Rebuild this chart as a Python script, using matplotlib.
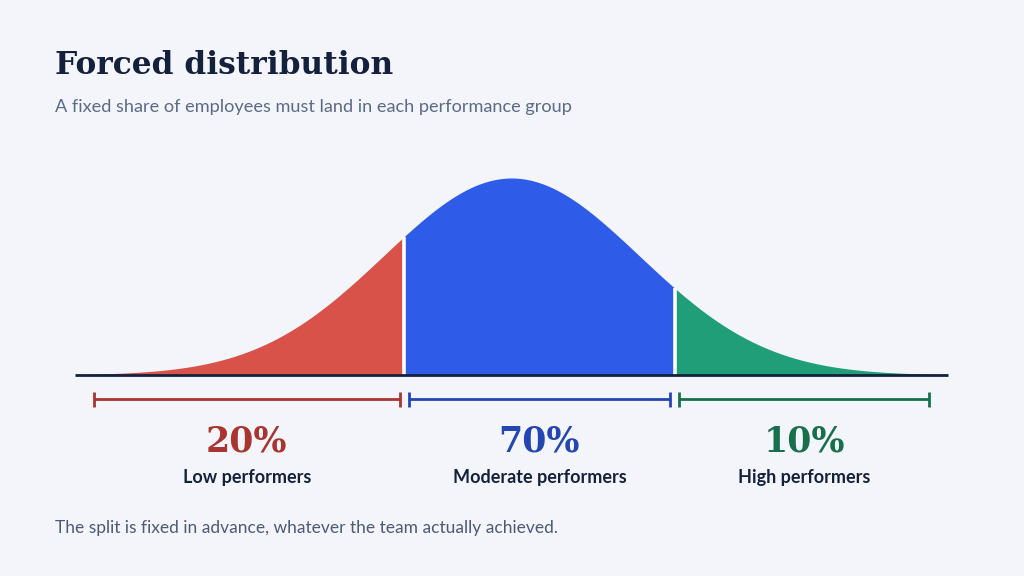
import numpy as np
import matplotlib
matplotlib.use("Agg")
import matplotlib.pyplot as plt
from statistics import NormalDist

# shares of each group (percent), left to right
shares = [20, 70, 10]
share_labels = ["20%", "70%", "10%"]
group_names = ["Low performers", "Moderate performers", "High performers"]

fill_colors = ["#d9524a", "#2e5ce9", "#1f9e78"]
dark_colors = ["#a8352f", "#2446b3", "#17704b"]

bg = "#f4f5fa"
navy = "#14213d"

z_lo, z_hi = -3.27, 3.27
nd = NormalDist()
cum = np.cumsum(shares) / 100.0
cuts = [z_lo] + [nd.inv_cdf(c) for c in cum[:-1]] + [z_hi]

fig = plt.figure(figsize=(10.24, 5.76), dpi=100, facecolor=bg)
# axes spans whole figure; limits chosen so the curve sits where it does in the layout
ax = fig.add_axes([0, 0, 1, 1])
ax.set_facecolor(bg)
sig_px, mu_px, base_px, peak_px = 127.6, 511.4, 375, 178
sc = (base_px - peak_px) / nd.pdf(0)
ax.set_xlim(-mu_px / sig_px, (1024 - mu_px) / sig_px)
ax.set_ylim(-(576 - base_px) / sc, base_px / sc)
ax.axis("off")

for i in range(3):
    xs = np.linspace(cuts[i], cuts[i + 1], 300)
    ys = np.array([nd.pdf(v) for v in xs])
    ax.fill_between(xs, 0, ys, color=fill_colors[i], lw=0, zorder=2)

# white dividers
for c in cuts[1:-1]:
    ax.plot([c, c], [0, nd.pdf(c)], color="white", lw=2.6, zorder=3,
            solid_capstyle="butt")

# baseline
ax.plot([(75 - mu_px) / sig_px, (948 - mu_px) / sig_px], [0, 0], color=navy,
        lw=2, zorder=4, solid_capstyle="butt")

# brackets
gap = 4.5 / sig_px
by = -24 / sc
th = 7.5 / sc
for i in range(3):
    a = cuts[i] + (gap if i > 0 else 0)
    b = cuts[i + 1] - (gap if i < 2 else 0)
    ax.plot([a, b], [by, by], color=dark_colors[i], lw=2, solid_capstyle="butt")
    for e in (a, b):
        ax.plot([e, e], [by - th, by + th], color=dark_colors[i], lw=2,
                solid_capstyle="butt")
    mid = (a + b) / 2
    ax.text(mid, -67 / sc, share_labels[i], ha="center", va="center",
            fontsize=25, fontweight="bold", family="DejaVu Serif",
            color=dark_colors[i])
    ax.text(mid, -103 / sc, group_names[i], ha="center", va="center",
            fontsize=13, fontweight="bold", family="Lato", color=navy)

fig.text(55 / 1024, 1 - 66 / 576, "Forced distribution", ha="left", va="center",
         fontsize=22.5, fontweight="bold", family="DejaVu Serif", color=navy)
fig.text(55 / 1024, 1 - 107 / 576,
         "A fixed share of employees must land in each performance group",
         ha="left", va="center", fontsize=13.1, family="Lato", color="#5b6a86")
fig.text(55 / 1024, 1 - 528 / 576,
         "The split is fixed in advance, whatever the team actually achieved.",
         ha="left", va="center", fontsize=12.5, family="Lato", color="#4b5a76")

fig.savefig("out.png", dpi=100, facecolor=bg)
